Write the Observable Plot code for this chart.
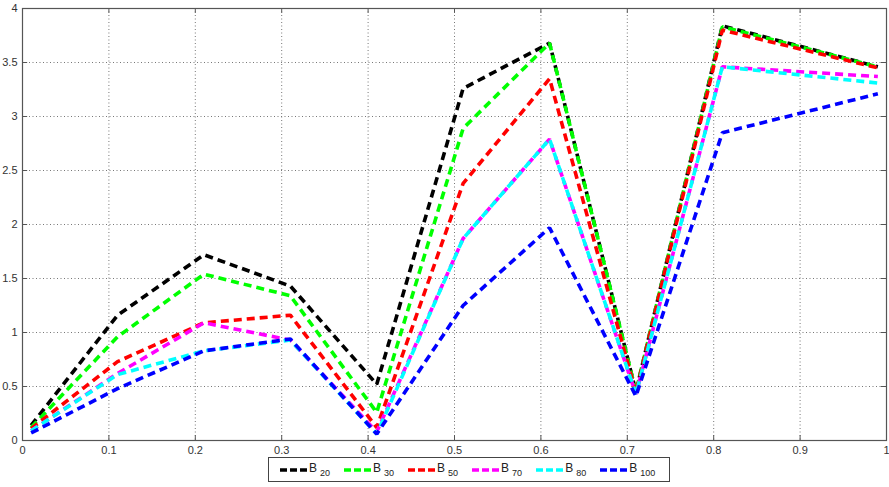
<!DOCTYPE html>
<html>
<head>
<meta charset="utf-8">
<script src="https://cdn.jsdelivr.net/npm/d3@7"></script>
<script src="https://cdn.jsdelivr.net/npm/@observablehq/plot@0.6"></script>
<style>
  html, body { margin: 0; padding: 0; background: #fff; }
  body { width: 889px; height: 487px; overflow: hidden; font-family: "Liberation Sans", Arial, sans-serif; }
  #legend { position: absolute; left: 268px; top: 457px; width: 402px; height: 25px; border: 1px solid #444; box-sizing: border-box; display: flex; align-items: center; padding-left: 9px; font-size: 12px; color: #222; background:#fff; }
  .item { display: flex; align-items: center; margin-right: 12px; }
  .item svg { margin-right: 1px; }
  .item sub { font-size: 9px; vertical-align: -4px; margin-left: 3px; }
</style>
</head>
<body>
<div id="chart"></div>
<div id="legend"></div>
<script>
const xValues = [0.01, 0.11, 0.21, 0.31, 0.41, 0.51, 0.61, 0.71, 0.81, 0.99];
const seriesNames = ["B20", "B30", "B50", "B70", "B80", "B100"];
const subscripts = ["20", "30", "50", "70", "80", "100"];
const seriesColors = ["#000000", "#00ff00", "#ff0000", "#ff00ff", "#00ffff", "#0000ff"];
const B20  = [0.14, 1.16, 1.72, 1.43, 0.52, 3.26, 3.68, 0.45, 3.84, 3.46];
const B30  = [0.12, 0.96, 1.54, 1.34, 0.26, 2.89, 3.68, 0.45, 3.83, 3.46];
const B50  = [0.11, 0.73, 1.09, 1.16, 0.12, 2.38, 3.35, 0.44, 3.80, 3.45];
const B70  = [0.09, 0.62, 1.09, 0.93, 0.08, 1.87, 2.79, 0.43, 3.46, 3.37];
const B80  = [0.09, 0.61, 0.83, 0.93, 0.06, 1.87, 2.79, 0.43, 3.46, 3.31];
const B100 = [0.07, 0.48, 0.83, 0.94, 0.06, 1.25, 1.97, 0.41, 2.85, 3.21];
const xTicks = [0, 0.1, 0.2, 0.3, 0.4, 0.5, 0.6, 0.7, 0.8, 0.9, 1];
const yTicks = [0, 0.5, 1, 1.5, 2, 2.5, 3, 3.5, 4];

const seriesValues = [B20, B30, B50, B70, B80, B100];
const rows = [];
seriesNames.forEach((name, i) => {
  xValues.forEach((x, j) => rows.push({series: name, x, y: seriesValues[i][j]}));
});

const innerX = xTicks.slice(1, -1);
const innerY = yTicks.slice(1, -1);

const chart = Plot.plot({
  width: 889,
  height: 455,
  marginLeft: 22,
  marginRight: 3,
  marginTop: 8,
  marginBottom: 15,
  style: {fontFamily: "'Liberation Sans', Arial, sans-serif", fontSize: "11px", color: "#333", background: "#fff"},
  x: {domain: [0, 1]},
  y: {domain: [0, 4]},
  color: {domain: seriesNames, range: seriesColors},
  marks: [
    Plot.ruleX(innerX, {stroke: "#777", strokeDasharray: "1,2.5", strokeWidth: 1}),
    Plot.ruleY(innerY, {stroke: "#777", strokeDasharray: "1,2.5", strokeWidth: 1}),
    Plot.ruleX(innerX, {y1: 0, y2: 0.045, stroke: "#555"}),
    Plot.ruleX(innerX, {y1: 3.955, y2: 4, stroke: "#555"}),
    Plot.ruleY(innerY, {x1: 0, x2: 0.006, stroke: "#555"}),
    Plot.ruleY(innerY, {x1: 0.994, x2: 1, stroke: "#555"}),
    Plot.frame({stroke: "#555", strokeWidth: 1.2}),
    Plot.axisX({ticks: xTicks, tickSize: 0, tickPadding: 6, label: null, tickFormat: d => String(d)}),
    Plot.axisY({ticks: yTicks, tickSize: 0, tickPadding: 5, label: null, tickFormat: d => String(d)}),
    Plot.line(rows, {x: "x", y: "y", z: "series", stroke: "series", strokeWidth: 3.6, strokeDasharray: "8,5", strokeLinejoin: "miter", strokeLinecap: "butt"})
  ]
});
document.getElementById("chart").appendChild(chart);

const legend = document.getElementById("legend");
seriesNames.forEach((name, i) => {
  const item = document.createElement("div");
  item.className = "item";
  item.innerHTML = `<svg width="30" height="10"><line x1="2" y1="5" x2="30" y2="5" stroke="${seriesColors[i]}" stroke-width="3.6" stroke-dasharray="7,3"/></svg><span>B<sub>${subscripts[i]}</sub></span>`;
  legend.appendChild(item);
});
</script>
</body>
</html>
